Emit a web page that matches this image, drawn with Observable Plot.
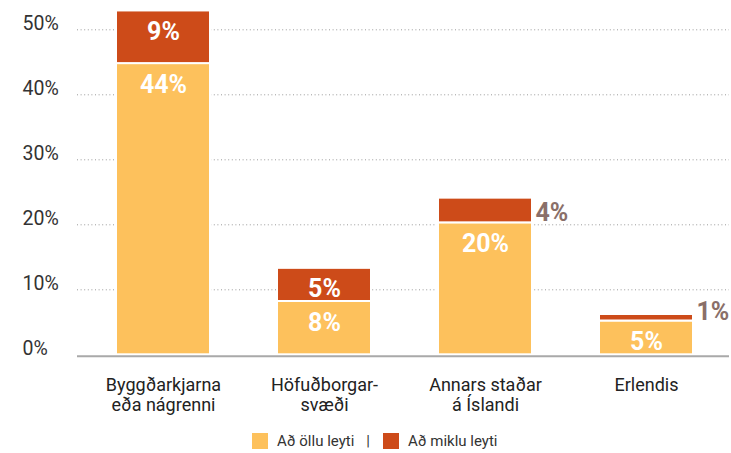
<!DOCTYPE html>
<html>
<head>
<meta charset="utf-8">
<script src="https://cdn.jsdelivr.net/npm/d3@7"></script>
<script src="https://cdn.jsdelivr.net/npm/@observablehq/plot@0.6"></script>
<style>
  body { margin: 0; background: #fff; font-family: Roboto, sans-serif; }
  #legend { display: flex; align-items: center; height: 24px; margin-top: 9px; margin-left: 252px; font-size: 15px; color: #333; }
  #legend .sw { width: 16px; height: 16px; display: inline-block; margin-right: 9px; }
  #legend .item { display: flex; align-items: center; }
  #legend .sep { margin: 0 13px 0 12px; }
</style>
</head>
<body>
<div id="chart"></div>
<div id="legend"></div>
<script>
const categories = ["Byggðarkjarna\neða nágrenni", "Höfuðborgar-\nsvæði", "Annars staðar\ná Íslandi", "Erlendis"];
const seriesNames = ["Að öllu leyti", "Að miklu leyti"];
const fullValues = [44.8, 8.2, 20.3, 5.2];
const partValues = [8.1, 5.1, 3.8, 1.0];
const fullLabels = ["44%", "8%", "20%", "5%"];
const partLabels = ["9%", "5%", "4%", "1%"];
const partLabelInside = [true, true, false, false];
const yTicks = [0, 10, 20, 30, 40, 50];
const colors = ["#FDC15C", "#CD4B19"];

const data = categories.flatMap((c, i) => [
  {cat: c, series: seriesNames[0], value: fullValues[i]},
  {cat: c, series: seriesNames[1], value: partValues[i]}
]);
const insideLabels = categories.flatMap((c, i) => {
  const out = [{cat: c, top: fullValues[i], label: fullLabels[i]}];
  if (partLabelInside[i]) out.push({cat: c, top: fullValues[i] + partValues[i], label: partLabels[i]});
  return out;
});
const outsideLabels = categories
  .map((c, i) => ({cat: c, y: fullValues[i], label: partLabels[i], show: !partLabelInside[i]}))
  .filter(d => d.show);

const chart = Plot.plot({
  width: 731,
  height: 420,
  marginLeft: 77,
  marginRight: 2,
  marginTop: 29.3,
  marginBottom: 65.7,
  style: {fontFamily: "Roboto, sans-serif", color: "#222", background: "#fff"},
  x: {domain: categories, range: [82.5, 726.5], paddingInner: 0.415, paddingOuter: 0.2075},
  y: {domain: [0, 50]},
  color: {domain: seriesNames, range: colors},
  marks: [
    Plot.gridY(yTicks.filter(t => t > 0), {stroke: "#9a9a9a", strokeOpacity: 1, strokeDasharray: "1,2.6"}),
    Plot.barY(data, {x: "cat", y: "value", fill: "series", stroke: "white", strokeWidth: 2}),
    Plot.ruleY([0], {stroke: "#a9a9a9", strokeWidth: 2, dy: 1.5}),
    Plot.text(insideLabels, {x: "cat", y: "top", text: "label", fill: "white", fontWeight: "bold", fontSize: 25, dy: 21}),
    Plot.text(outsideLabels, {x: "cat", y: "y", text: "label", fill: "#8a6f69", fontWeight: "bold", fontSize: 25, textAnchor: "start", dx: 50, dy: -9.5}),
    Plot.axisY(yTicks, {tickSize: 0, tickPadding: 0, textAnchor: "start", dx: -55, dy: -6, tickFormat: d => d + "%", fontSize: 19.5, fill: "#333", label: null}),
    Plot.axisX({tickSize: 0, tickPadding: 21.7, fontSize: 18, fill: "#222", lineHeight: 1.11, label: null})
  ]
});
document.getElementById("chart").appendChild(chart);

const legend = document.getElementById("legend");
seriesNames.forEach((name, i) => {
  if (i > 0) {
    const sep = document.createElement("span");
    sep.className = "sep";
    sep.textContent = "|";
    legend.appendChild(sep);
  }
  const item = document.createElement("span");
  item.className = "item";
  const sw = document.createElement("span");
  sw.className = "sw";
  sw.style.background = colors[i];
  item.appendChild(sw);
  item.appendChild(document.createTextNode(name));
  legend.appendChild(item);
});
</script>
</body>
</html>
